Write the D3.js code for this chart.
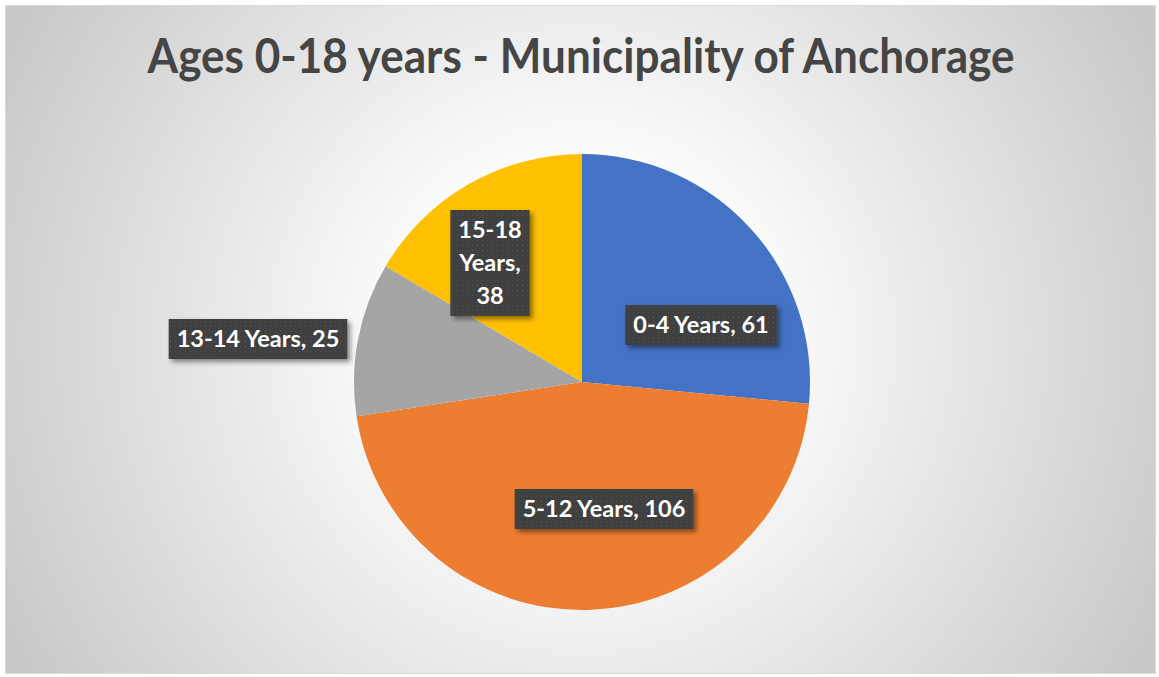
<!DOCTYPE html>
<html>
<head>
<meta charset="utf-8">
<script src="https://cdn.jsdelivr.net/npm/d3@7"></script>
<style>
  body { margin: 0; background: #ffffff; }
  svg { display: block; }
</style>
</head>
<body>
<div id="chart"></div>
<script>
// chart data
var title = "Ages 0-18 years - Municipality of Anchorage";
var categories = ["0-4 Years", "5-12 Years", "13-14 Years", "15-18 Years"];
var values = [61, 106, 25, 38];
var colors = ["#4472C4", "#ED7D31", "#A5A5A5", "#FFC000"];
// label text lines (Excel wraps the narrow one)
var labelLines = [["0-4 Years, 61"], ["5-12 Years, 106"], ["13-14 Years, 25"], ["15-18", "Years,", "38"]];
// label box centre, offset from pie centre (layout only)
var labelOffsets = [[119, -57], [22, 127], [-324, -43], [-92, -119]];

var W = 1159, H = 677;
var cx = 582, cy = 382, radius = 228;

var svg = d3.select("#chart").append("svg")
    .attr("width", W)
    .attr("height", H);

var defs = svg.append("defs");

//radial background
var grad = defs.append("radialGradient")
    .attr("id", "bg")
    .attr("gradientUnits", "userSpaceOnUse")
    .attr("cx", 581).attr("cy", 340).attr("r", 640);
grad.append("stop").attr("offset", "0").attr("stop-color", "#ffffff");
grad.append("stop").attr("offset", "0.3").attr("stop-color", "#fbfbfb");
grad.append("stop").attr("offset", "1").attr("stop-color", "#c9c9c9");

//dotted fill for label boxes
var pat = defs.append("pattern")
    .attr("id", "dots")
    .attr("width", 5).attr("height", 5)
    .attr("patternUnits", "userSpaceOnUse");
pat.append("rect").attr("width", 5).attr("height", 5).attr("fill", "#404040");
pat.append("rect").attr("x", 2).attr("y", 2).attr("width", 1).attr("height", 1).attr("fill", "#555555");

//shadow
var filt = defs.append("filter")
    .attr("id", "shadow")
    .attr("x", "-20%").attr("y", "-30%").attr("width", "140%").attr("height", "160%");
filt.append("feDropShadow")
    .attr("dx", 3).attr("dy", 3)
    .attr("stdDeviation", 2.5)
    .attr("flood-color", "#000000")
    .attr("flood-opacity", 0.45);

svg.append("rect")
    .attr("x", 5.5).attr("y", 5.5)
    .attr("width", 1150).attr("height", 668)
    .attr("fill", "url(#bg)")
    .attr("stroke", "#d9d9d9");

//Title
var titleText = svg.append("text")
    .attr("x", 581)
    .attr("y", 73)
    .attr("text-anchor", "middle")
    .style("font-family", "Lato, 'Open Sans', sans-serif")
    .style("font-weight", "bold")
    .style("font-size", "47px")
    .style("fill", "#454545")
    .text(title);
titleText.attr("textLength", 867).attr("lengthAdjust", "spacingAndGlyphs");

//pie
var pie = d3.pie().sort(null).value(function(d) { return d; });
var arc = d3.arc().innerRadius(0).outerRadius(radius);
var arcs = pie(values);

var g = svg.append("g")
    .attr("transform", "translate(" + cx + "," + cy + ")");

g.selectAll("path.slice")
    .data(arcs)
    .enter().append("path")
      .attr("class", "slice")
      .attr("d", arc)
      .attr("fill", function(d, i) { return colors[i]; })
      .attr("stroke", "none");

//data labels
var fontSize = 23.5, lineH = 33, padX = 8;
var labels = g.selectAll("g.label")
    .data(arcs)
    .enter().append("g")
      .attr("class", "label")
      .attr("transform", function(d, i) {
        return "translate(" + labelOffsets[i][0] + "," + labelOffsets[i][1] + ")";
      });

labels.each(function(d, i) {
  var lab = d3.select(this);
  var lines = labelLines[i];
  var box = lab.append("rect")
      .attr("fill", "url(#dots)")
      .attr("filter", "url(#shadow)");
  var txt = lab.append("text")
      .attr("text-anchor", "middle")
      .style("font-family", "Lato, 'Open Sans', sans-serif")
      .style("font-weight", "bold")
      .style("font-size", fontSize + "px")
      .style("fill", "#ffffff");
  var y0 = -(lines.length - 1) * lineH / 2;
  lines.forEach(function(t, k) {
    txt.append("tspan")
      .attr("x", 0)
      .attr("y", y0 + k * lineH)
      .attr("dy", "0.35em")
      .text(t);
  });
  var w = 0;
  txt.selectAll("tspan").each(function() {
    w = Math.max(w, this.getComputedTextLength());
  });
  var bw = w + padX * 2, bh = lines.length * lineH + 7;
  if (lines.length == 1) bh = 40;
  box.attr("x", -bw / 2).attr("y", -bh / 2).attr("width", bw).attr("height", bh);
});
</script>
</body>
</html>
